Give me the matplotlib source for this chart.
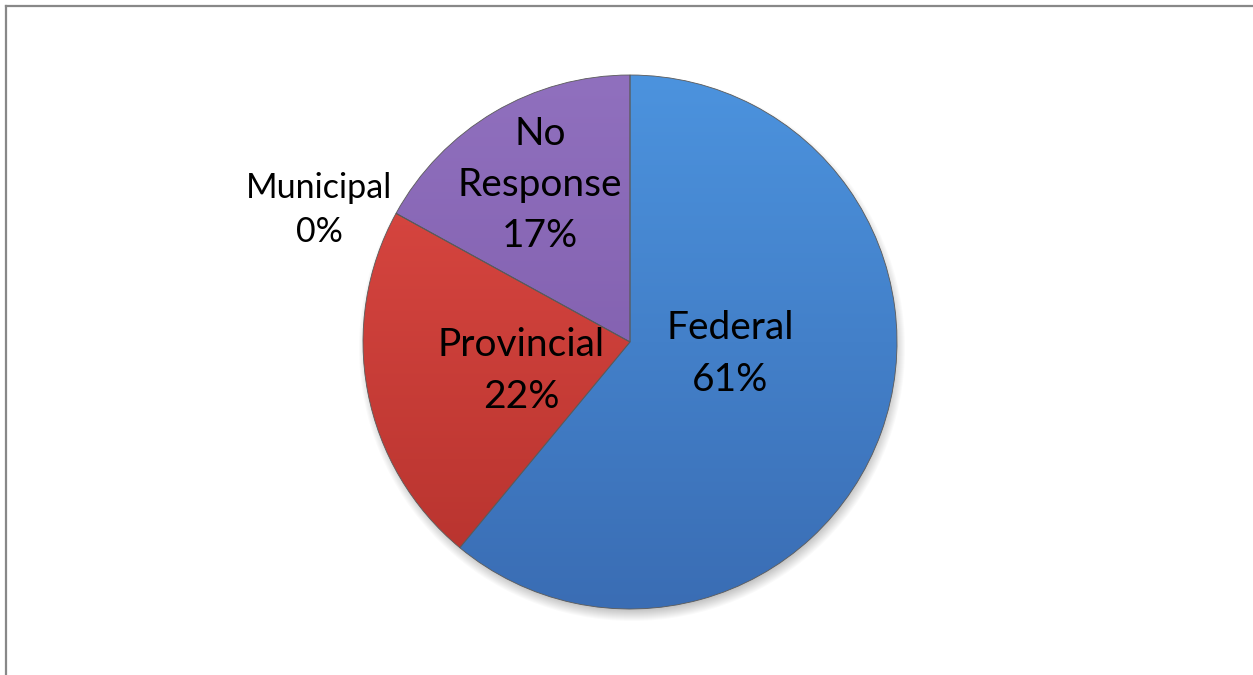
import matplotlib.pyplot as plt
import matplotlib.colors as mcolors
from matplotlib.patches import Circle
import numpy as np

plt.rcParams['font.family'] = ['Lato', 'DejaVu Sans']

# survey shares, clockwise from 12 o'clock
categories = ["Federal", "Provincial", "Municipal", "No Response"]
shares = [61, 22, 0, 17]
top_colors = ["#4c93de", "#e04b45", "#c0c0c0", "#9070be"]
bottom_colors = ["#3a6db4", "#b5322d", "#a0a0a0", "#7956a5"]

W, H = 1253, 675
fig = plt.figure(figsize=(W / 100, H / 100), dpi=100)
ax = fig.add_axes([0, 0, 1, 1])

cx, cy, r = 630, H - 342, 267

# soft drop shadow under the pie
for i in range(12):
    ax.add_patch(Circle((cx + 2, cy - 6), r + 6 - i, color="black",
                        alpha=0.018, lw=0, zorder=0))

wedges, _ = ax.pie(shares, startangle=90, counterclock=False,
                   center=(cx, cy), radius=r,
                   wedgeprops=dict(edgecolor="#5a5a5a", linewidth=0.6))

# vertical gradient fill clipped to every wedge
grad = np.linspace(0, 1, 256)[:, None]
for w, c0, c1 in zip(wedges, top_colors, bottom_colors):
    cmap = mcolors.LinearSegmentedColormap.from_list("g", [c1, c0])
    w.set_facecolor("none")
    im = ax.imshow(grad, cmap=cmap, origin="lower", aspect="auto",
                   extent=(cx - r, cx + r, cy - r, cy + r), zorder=1)
    im.set_clip_path(w)
    w.set_zorder(2)

ax.set_xlim(0, W)
ax.set_ylim(0, H)
ax.axis("off")

# in-slice labels
lab = dict(ha="center", va="center", fontsize=28, color="black",
           linespacing=1.53, zorder=3)
ax.text(730, H - 354, f"{categories[0]}\n{shares[0]}%", **lab)
ax.text(521, H - 371, f"{categories[1]}\n{shares[1]}%", **lab)
ax.text(540, H - 185, "No\nResponse\n" + f"{shares[3]}%", **lab)
ax.text(319, H - 210, f"{categories[2]}\n{shares[2]}%", ha="center",
        va="center", fontsize=24.5, linespacing=1.48, zorder=3)

# chart border (top and left edges show)
fig.add_artist(plt.Line2D([5.5 / W, 1], [1 - 5.5 / H, 1 - 5.5 / H],
                          color="#888888", lw=1.6, transform=fig.transFigure))
fig.add_artist(plt.Line2D([5.5 / W, 5.5 / W], [0, 1 - 5.5 / H],
                          color="#888888", lw=1.6, transform=fig.transFigure))

fig.savefig("out.png", dpi=100)
